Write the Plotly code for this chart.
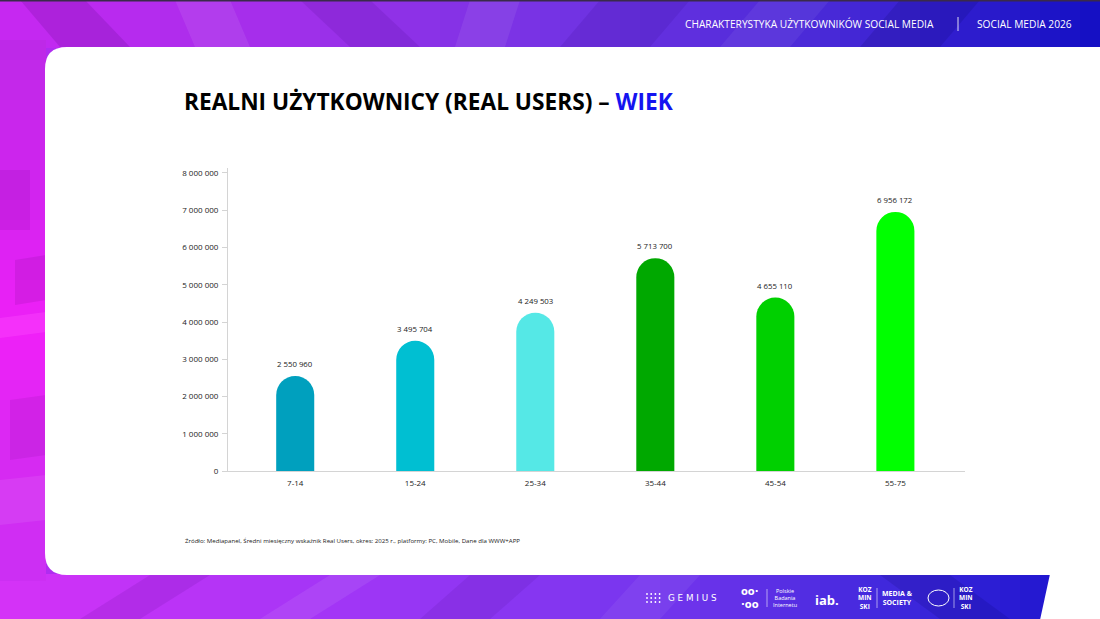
import plotly.graph_objects as go

# ---------------- data ----------------
categories = ["7-14", "15-24", "25-34", "35-44", "45-54", "55-75"]
users = [2550960, 3495704, 4249503, 5713700, 4655110, 6956172]
bar_colors = ["#00A0BE", "#00BFD2", "#55E8E6", "#00A800", "#00D000", "#00FF00"]
y_ticks = [0, 1000000, 2000000, 3000000, 4000000, 5000000, 6000000, 7000000, 8000000]

title_main = "REALNI UŻYTKOWNICY (REAL USERS) – "
title_accent = "WIEK"
header_left = "CHARAKTERYSTYKA UŻYTKOWNIKÓW SOCIAL MEDIA"
header_right = "SOCIAL MEDIA 2026"
source_text = ("Źródło: Mediapanel, Średni miesięczny wskaźnik Real Users, okres: 2025 r., "
               "platformy: PC, Mobile, Dane dla WWW+APP")

# ---------------- geometry helpers (figure pixels -> paper) ----------------
W, H = 1100, 619
PL, PR, PT, PB = 228, 965, 168, 471


def px(x):
    return (x - PL) / (PR - PL)


def py(y):
    return (PB - y) / (PB - PT)


def hex2rgb(h):
    h = h.lstrip("#")
    return tuple(int(h[i:i + 2], 16) for i in (0, 2, 4))


def interp(stops, t):
    for i in range(len(stops) - 1):
        a, ca = stops[i]
        b, cb = stops[i + 1]
        if a <= t <= b:
            f = (t - a) / (b - a) if b > a else 0
            r1, g1, b1 = hex2rgb(ca)
            r2, g2, b2 = hex2rgb(cb)
            return "rgb(%d,%d,%d)" % (r1 + (r2 - r1) * f, g1 + (g2 - g1) * f, b1 + (b2 - b1) * f)
    return stops[-1][1]


def rect(x0, y0, x1, y1, color, layer="below"):
    return dict(type="rect", xref="paper", yref="paper", x0=px(x0), x1=px(x1),
                y0=py(y1), y1=py(y0), fillcolor=color, line_width=0, layer=layer)


def poly(points, color, layer="below"):
    d = "M " + " L ".join("%f,%f" % (px(x), py(y)) for x, y in points) + " Z"
    return dict(type="path", xref="paper", yref="paper", path=d, fillcolor=color,
                line_width=0, layer=layer)


shapes = []
# top band gradient
top_stops = [(0, "#C828F2"), (300, "#A030EA"), (560, "#7434E4"), (820, "#4A2AD8"), (1100, "#1410C4")]
step = 20
for x in range(0, W, step):
    shapes.append(rect(x, 0, x + step + 1, 48, interp(top_stops, x + step / 2)))
# bottom band gradient
bot_stops = [(0, "#D632F8"), (350, "#A036F6"), (650, "#7636EE"), (900, "#3E28DC"), (1100, "#1812CC")]
for x in range(0, W, step):
    shapes.append(rect(x, 574, x + step + 1, H, interp(bot_stops, x + step / 2)))
# left strip vertical gradient
left_stops = [(47, "#BE2AE8"), (200, "#D424F0"), (330, "#F020F8"), (450, "#D82AF2"), (575, "#CC30F4")]
for y in range(40, 580, step):
    shapes.append(rect(0, y, 46, y + step + 1, interp(left_stops, y + step / 2)))

# faceted pattern overlays
overlays = [
    ([(20, 0), (85, 0), (130, 47), (60, 47)], "rgba(70,0,110,0.16)"),
    ([(175, 0), (230, 0), (250, 47), (195, 47)], "rgba(255,255,255,0.08)"),
    ([(300, 0), (370, 0), (420, 47), (350, 47)], "rgba(60,0,120,0.13)"),
    ([(470, 0), (520, 0), (505, 47), (455, 47)], "rgba(255,255,255,0.07)"),
    ([(600, 0), (690, 0), (650, 47), (560, 47)], "rgba(40,0,120,0.12)"),
    ([(760, 0), (830, 0), (790, 47), (720, 47)], "rgba(255,255,255,0.06)"),
    ([(900, 0), (980, 0), (940, 47), (860, 47)], "rgba(0,0,80,0.14)"),
    ([(0, 170), (30, 170), (30, 230), (0, 230)], "rgba(90,0,120,0.10)"),
    ([(15, 260), (46, 255), (46, 300), (15, 305)], "rgba(80,0,110,0.12)"),
    ([(0, 318), (46, 312), (46, 332), (0, 338)], "rgba(255,80,255,0.35)"),
    ([(10, 400), (46, 395), (46, 455), (10, 460)], "rgba(90,0,120,0.10)"),
    ([(0, 480), (46, 475), (46, 520), (0, 525)], "rgba(255,255,255,0.08)"),
    ([(80, 619), (150, 575), (210, 575), (140, 619)], "rgba(70,0,120,0.12)"),
    ([(260, 619), (330, 575), (380, 575), (310, 619)], "rgba(255,255,255,0.08)"),
    ([(420, 619), (470, 575), (540, 575), (490, 619)], "rgba(60,0,120,0.10)"),
    ([(600, 619), (640, 575), (700, 575), (660, 619)], "rgba(255,255,255,0.06)"),
    ([(880, 575), (950, 575), (1010, 619), (940, 619)], "rgba(0,0,90,0.14)"),
]
for pts, c in overlays:
    shapes.append(poly(pts, c))

# thin dark top edge
shapes.append(rect(0, 0, W, 1.5, "#3A2A4A"))
# white area bottom right (diagonal)
shapes.append(poly([(1050, 574), (1101, 574), (1101, 620), (1040, 620)], "#FFFFFF"))

# white card with rounded left corners
r = 22
cx0, cy0, cx1, cy1 = 45, 47, 1101, 575
card_path = ("M %f,%f L %f,%f L %f,%f L %f,%f Q %f,%f %f,%f L %f,%f Q %f,%f %f,%f Z" % (
    px(cx0 + r), py(cy0), px(cx1), py(cy0), px(cx1), py(cy1), px(cx0 + r), py(cy1),
    px(cx0), py(cy1), px(cx0), py(cy1 - r), px(cx0), py(cy0 + r),
    px(cx0), py(cy0), px(cx0 + r), py(cy0)))
shapes.append(dict(type="path", xref="paper", yref="paper", path=card_path,
                   fillcolor="#FFFFFF", line_width=0, layer="below"))

# header separator
shapes.append(dict(type="line", xref="paper", yref="paper", x0=px(958), x1=px(958),
                   y0=py(31), y1=py(17), line=dict(color="rgba(255,255,255,0.85)", width=1),
                   layer="above"))

# footer emblem outline and logo separators
shapes.append(dict(type="circle", xref="paper", yref="paper", x0=px(928), x1=px(949),
                   y0=py(606), y1=py(590), line=dict(color="white", width=1), layer="above"))
for sx, y0, y1 in ((767, 589, 607), (877, 588, 608), (954, 588, 608)):
    shapes.append(dict(type="line", xref="paper", yref="paper", x0=px(sx), x1=px(sx),
                       y0=py(y1), y1=py(y0), line=dict(color="rgba(255,255,255,0.7)", width=0.8),
                       layer="above"))
# gemius dot grid
for i in range(4):
    for j in range(3):
        dx, dy = 647 + i * 4.2, 594 + j * 4
        shapes.append(dict(type="circle", xref="paper", yref="paper",
                           x0=px(dx - 0.9), x1=px(dx + 0.9), y0=py(dy + 0.9), y1=py(dy - 0.9),
                           fillcolor="white", line_width=0, layer="above"))

# ---------------- figure ----------------
fig = go.Figure()
fig.add_trace(go.Bar(
    x=categories, y=users, width=0.317,
    marker=dict(color=bar_colors, cornerradius="50%", line_width=0),
    hoverinfo="x+y",
))

font_body = "Open Sans"
annotations = []
for c, v in zip(categories, users):
    annotations.append(dict(x=c, y=v, xref="x", yref="y", text=f"{v:,}".replace(",", " "),
                            showarrow=False, yshift=12,
                            font=dict(family=font_body, size=7.8, color="#222222")))

annotations += [
    dict(xref="paper", yref="paper", x=px(182), y=py(101), xanchor="left", yanchor="middle",
         text=f"<b>{title_main}<span style='color:#1414F0'>{title_accent}</span></b>",
         showarrow=False, font=dict(family="Open Sans", size=22.7, color="#000000")),
    dict(xref="paper", yref="paper", x=px(936), y=py(24), xanchor="right", yanchor="middle",
         text=header_left, showarrow=False, font=dict(family=font_body, size=10.2, color="white")),
    dict(xref="paper", yref="paper", x=px(1074), y=py(24), xanchor="right", yanchor="middle",
         text=header_right, showarrow=False, font=dict(family=font_body, size=10.2, color="white")),
    dict(xref="paper", yref="paper", x=px(183), y=py(540), xanchor="left", yanchor="middle",
         text=source_text, showarrow=False, font=dict(family=font_body, size=6.1, color="#222222")),
    # footer logos (as text)
    dict(xref="paper", yref="paper", x=px(666), y=py(598), xanchor="left", yanchor="middle",
         text="G E M I U S", showarrow=False, font=dict(family="DejaVu Sans", size=8.8, color="white")),
    dict(xref="paper", yref="paper", x=px(750), y=py(598), xanchor="center", yanchor="middle",
         text="<b>oo·<br>·oo</b>", showarrow=False,
         font=dict(family="DejaVu Sans", size=10, color="white")),
    dict(xref="paper", yref="paper", x=px(771), y=py(598), xanchor="left", yanchor="middle",
         text="Polskie<br>Badania<br>Internetu", showarrow=False,
         font=dict(family=font_body, size=5.5, color="white")),
    dict(xref="paper", yref="paper", x=px(813), y=py(600), xanchor="left", yanchor="middle",
         text="<b>iab.</b>", showarrow=False, font=dict(family=font_body, size=13, color="white")),
    dict(xref="paper", yref="paper", x=px(865), y=py(598), xanchor="center", yanchor="middle",
         text="<b>KOZ<br>MIN<br>SKI</b>", showarrow=False,
         font=dict(family=font_body, size=6.5, color="white")),
    dict(xref="paper", yref="paper", x=px(880), y=py(598), xanchor="left", yanchor="middle",
         text="<b>MEDIA &<br>SOCIETY</b>", showarrow=False,
         font=dict(family=font_body, size=7, color="white")),
    dict(xref="paper", yref="paper", x=px(966), y=py(598), xanchor="center", yanchor="middle",
         text="<b>KOZ<br>MIN<br>SKI</b>", showarrow=False,
         font=dict(family=font_body, size=6.5, color="white")),
]

fig.update_layout(
    width=W, height=H,
    margin=dict(l=PL, r=W - PR, t=PT, b=H - PB, pad=0),
    paper_bgcolor="#B02CF0",
    plot_bgcolor="rgba(0,0,0,0)",
    separators=", ",
    showlegend=False,
    shapes=shapes,
    annotations=annotations,
    bargap=0.683,
)
fig.update_xaxes(
    range=[-0.56, 5.58], showline=True, linecolor="#D4D4D4", linewidth=1,
    ticks="", showgrid=False, zeroline=False, ticklabelstandoff=4,
    tickfont=dict(family=font_body, size=8, color="#222222"),
)
fig.update_yaxes(
    range=[0, 8.134e6], tickvals=y_ticks, tickformat=",d",
    showline=True, linecolor="#D4D4D4", linewidth=1,
    ticks="outside", ticklen=5, tickcolor="#D4D4D4",
    showgrid=False, zeroline=False, ticklabelstandoff=2,
    tickfont=dict(family=font_body, size=8, color="#222222"),
)

fig.write_html("out.html")
